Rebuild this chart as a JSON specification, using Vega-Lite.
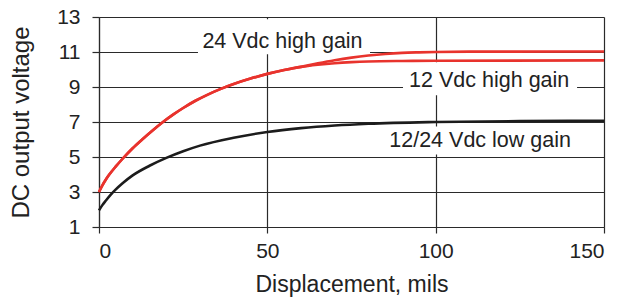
{
  "$schema": "https://vega.github.io/schema/vega-lite/v6.json",
  "width": 505,
  "height": 210,
  "autosize": "none",
  "padding": {"left": 99, "top": 17, "right": 22, "bottom": 72},
  "background": "white",
  "config": {
    "view": {"stroke": null},
    "font": "Liberation Sans",
    "axis": {
      "grid": true,
      "gridColor": "#2a2a2a",
      "gridWidth": 1.2,
      "gridOpacity": 1,
      "domainColor": "#2a2a2a",
      "domainWidth": 1.2,
      "tickColor": "#2a2a2a",
      "tickWidth": 1.2,
      "labelFont": "Liberation Sans",
      "labelFontSize": 21,
      "labelColor": "#222222",
      "titleFont": "Liberation Sans",
      "titleFontSize": 23,
      "titleFontWeight": "normal",
      "titleColor": "#222222"
    }
  },
  "datasets": {
    "curves": [
      {"series": "12/24 Vdc low gain", "x": 0, "v": 1.95},
      {"series": "12/24 Vdc low gain", "x": 1, "v": 2.25},
      {"series": "12/24 Vdc low gain", "x": 2, "v": 2.5},
      {"series": "12/24 Vdc low gain", "x": 3.5, "v": 2.85},
      {"series": "12/24 Vdc low gain", "x": 5, "v": 3.15},
      {"series": "12/24 Vdc low gain", "x": 7, "v": 3.5},
      {"series": "12/24 Vdc low gain", "x": 10, "v": 3.95},
      {"series": "12/24 Vdc low gain", "x": 15, "v": 4.5},
      {"series": "12/24 Vdc low gain", "x": 20, "v": 4.95},
      {"series": "12/24 Vdc low gain", "x": 25, "v": 5.33},
      {"series": "12/24 Vdc low gain", "x": 30, "v": 5.65},
      {"series": "12/24 Vdc low gain", "x": 40, "v": 6.1},
      {"series": "12/24 Vdc low gain", "x": 50, "v": 6.43},
      {"series": "12/24 Vdc low gain", "x": 60, "v": 6.65},
      {"series": "12/24 Vdc low gain", "x": 70, "v": 6.8},
      {"series": "12/24 Vdc low gain", "x": 80, "v": 6.9},
      {"series": "12/24 Vdc low gain", "x": 100, "v": 7.0},
      {"series": "12/24 Vdc low gain", "x": 125, "v": 7.05},
      {"series": "12/24 Vdc low gain", "x": 150, "v": 7.07},
      {"series": "12 Vdc high gain", "x": 0, "v": 3.0},
      {"series": "12 Vdc high gain", "x": 1, "v": 3.38},
      {"series": "12 Vdc high gain", "x": 2, "v": 3.7},
      {"series": "12 Vdc high gain", "x": 3, "v": 3.98},
      {"series": "12 Vdc high gain", "x": 5, "v": 4.46},
      {"series": "12 Vdc high gain", "x": 7, "v": 4.9},
      {"series": "12 Vdc high gain", "x": 10, "v": 5.5},
      {"series": "12 Vdc high gain", "x": 13, "v": 6.03},
      {"series": "12 Vdc high gain", "x": 16, "v": 6.53},
      {"series": "12 Vdc high gain", "x": 19, "v": 7.0},
      {"series": "12 Vdc high gain", "x": 22, "v": 7.42},
      {"series": "12 Vdc high gain", "x": 25, "v": 7.8},
      {"series": "12 Vdc high gain", "x": 28.5, "v": 8.2},
      {"series": "12 Vdc high gain", "x": 32, "v": 8.54},
      {"series": "12 Vdc high gain", "x": 36, "v": 8.88},
      {"series": "12 Vdc high gain", "x": 40, "v": 9.17},
      {"series": "12 Vdc high gain", "x": 45, "v": 9.48},
      {"series": "12 Vdc high gain", "x": 50, "v": 9.75},
      {"series": "12 Vdc high gain", "x": 55, "v": 9.97},
      {"series": "12 Vdc high gain", "x": 60, "v": 10.15},
      {"series": "12 Vdc high gain", "x": 65, "v": 10.27},
      {"series": "12 Vdc high gain", "x": 70, "v": 10.36},
      {"series": "12 Vdc high gain", "x": 75, "v": 10.42},
      {"series": "12 Vdc high gain", "x": 80, "v": 10.46},
      {"series": "12 Vdc high gain", "x": 90, "v": 10.49},
      {"series": "12 Vdc high gain", "x": 100, "v": 10.5},
      {"series": "12 Vdc high gain", "x": 150, "v": 10.52},
      {"series": "24 Vdc high gain", "x": 0, "v": 3.0},
      {"series": "24 Vdc high gain", "x": 1, "v": 3.38},
      {"series": "24 Vdc high gain", "x": 2, "v": 3.7},
      {"series": "24 Vdc high gain", "x": 3, "v": 3.98},
      {"series": "24 Vdc high gain", "x": 5, "v": 4.46},
      {"series": "24 Vdc high gain", "x": 7, "v": 4.9},
      {"series": "24 Vdc high gain", "x": 10, "v": 5.5},
      {"series": "24 Vdc high gain", "x": 13, "v": 6.03},
      {"series": "24 Vdc high gain", "x": 16, "v": 6.53},
      {"series": "24 Vdc high gain", "x": 19, "v": 7.0},
      {"series": "24 Vdc high gain", "x": 22, "v": 7.42},
      {"series": "24 Vdc high gain", "x": 25, "v": 7.8},
      {"series": "24 Vdc high gain", "x": 28.5, "v": 8.2},
      {"series": "24 Vdc high gain", "x": 32, "v": 8.54},
      {"series": "24 Vdc high gain", "x": 36, "v": 8.88},
      {"series": "24 Vdc high gain", "x": 40, "v": 9.17},
      {"series": "24 Vdc high gain", "x": 45, "v": 9.48},
      {"series": "24 Vdc high gain", "x": 50, "v": 9.75},
      {"series": "24 Vdc high gain", "x": 55, "v": 9.97},
      {"series": "24 Vdc high gain", "x": 60, "v": 10.15},
      {"series": "24 Vdc high gain", "x": 65, "v": 10.35},
      {"series": "24 Vdc high gain", "x": 70, "v": 10.53},
      {"series": "24 Vdc high gain", "x": 75, "v": 10.68},
      {"series": "24 Vdc high gain", "x": 80, "v": 10.8},
      {"series": "24 Vdc high gain", "x": 85, "v": 10.89},
      {"series": "24 Vdc high gain", "x": 90, "v": 10.95},
      {"series": "24 Vdc high gain", "x": 95, "v": 10.98},
      {"series": "24 Vdc high gain", "x": 100, "v": 11.0},
      {"series": "24 Vdc high gain", "x": 110, "v": 11.02},
      {"series": "24 Vdc high gain", "x": 150, "v": 11.03}
    ],
    "labels": [
      {"label": "24 Vdc high gain", "x": 54.5, "v": 11.22, "x1": 29.4, "x2": 80.5, "v1": 10.87, "v2": 12.87},
      {"label": "12 Vdc high gain", "x": 115.9, "v": 8.98, "x1": 90.3, "x2": 142, "v1": 8.53, "v2": 10.41},
      {"label": "12/24 Vdc low gain", "x": 113.2, "v": 5.57, "x1": 83.5, "x2": 143, "v1": 5.15, "v2": 6.75}
    ]
  },
  "encoding": {
    "x": {
      "field": "x",
      "type": "quantitative",
      "scale": {"domain": [0, 150], "nice": false, "zero": false},
      "axis": {
        "values": [0, 50, 100, 150],
        "tickSize": 6,
        "labelPadding": 7,
        "title": "Displacement, mils",
        "titlePadding": 12
      }
    },
    "y": {
      "field": "v",
      "type": "quantitative",
      "scale": {"domain": [1, 13], "nice": false, "zero": false},
      "axis": {
        "values": [1, 3, 5, 7, 9, 11, 13],
        "tickSize": 7,
        "labelPadding": 12,
        "title": "DC output voltage",
        "titleFontSize": 24,
        "titlePadding": 23
      }
    }
  },
  "layer": [
    {
      "data": {"name": "labels"},
      "mark": {"type": "rect", "fill": "white", "stroke": null},
      "encoding": {
        "x": {"field": "x1", "type": "quantitative"},
        "x2": {"field": "x2"},
        "y": {"field": "v1", "type": "quantitative"},
        "y2": {"field": "v2"}
      }
    },
    {
      "data": {"name": "curves"},
      "mark": {"type": "line", "interpolate": "monotone", "strokeWidth": 2.6},
      "encoding": {
        "color": {
          "field": "series",
          "type": "nominal",
          "scale": {
            "domain": ["12/24 Vdc low gain", "12 Vdc high gain", "24 Vdc high gain"],
            "range": ["#1c1c1c", "#e8332d", "#e8332d"]
          },
          "legend": null
        },
        "detail": {"field": "series"}
      }
    },
    {
      "data": {"name": "labels"},
      "mark": {"type": "text", "align": "center", "baseline": "alphabetic", "font": "Liberation Sans", "fontSize": 21.5, "color": "#222222"},
      "encoding": {
        "text": {"field": "label"}
      }
    }
  ]
}
